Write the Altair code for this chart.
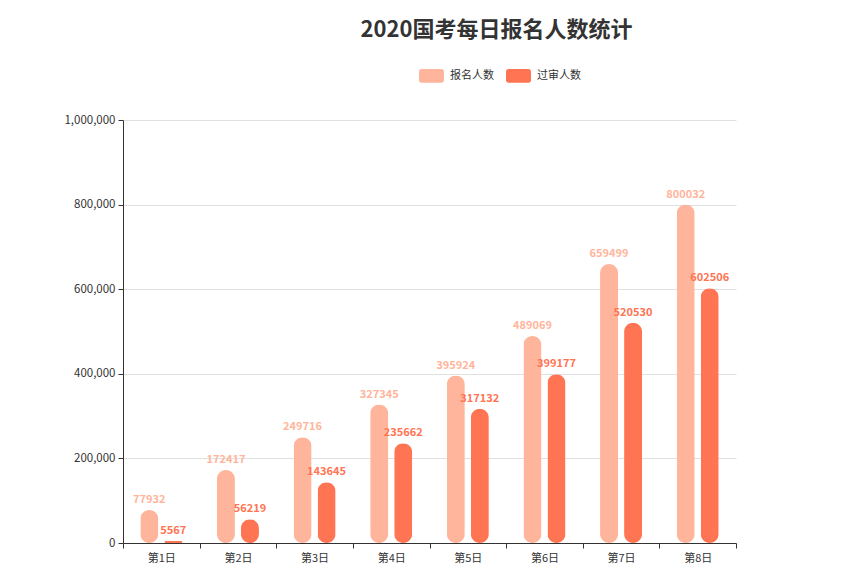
import altair as alt
import pandas as pd

days = ["第1日", "第2日", "第3日", "第4日", "第5日", "第6日", "第7日", "第8日"]
series = ["报名人数", "过审人数"]
signup = [77932, 172417, 249716, 327345, 395924, 489069, 659499, 800032]
approved = [5567, 56219, 143645, 235662, 317132, 399177, 520530, 602506]
colors = ["#FFB59B", "#FF7452"]

rows = []
for d, a, b in zip(days, signup, approved):
    rows.append({"day": d, "series": series[0], "value": a})
    rows.append({"day": d, "series": series[1], "value": b})
df = pd.DataFrame(rows)

font = "Noto Sans CJK SC"
rect_path = ("M-0.8,-0.55 L0.8,-0.55 A0.2,0.2 0 0 1 1,-0.35 L1,0.35 "
             "A0.2,0.2 0 0 1 0.8,0.55 L-0.8,0.55 A0.2,0.2 0 0 1 -1,0.35 "
             "L-1,-0.35 A0.2,0.2 0 0 1 -0.8,-0.55 Z")

x = alt.X("day:N", sort=days, title=None,
          scale=alt.Scale(paddingInner=0, paddingOuter=0),
          axis=alt.Axis(labelAngle=0, tickBand="extent", labelFont=font,
                        labelFontSize=11, labelColor="#333", domainColor="#333",
                        tickColor="#333", tickSize=5, labelPadding=4, grid=False))
xoff = alt.XOffset("series:N", sort=series,
                   scale=alt.Scale(paddingInner=0.25, paddingOuter=0.72))
color = alt.Color("series:N", sort=series,
                  scale=alt.Scale(domain=series, range=colors),
                  legend=alt.Legend(title=None, orient="none", direction="horizontal",
                                    legendX=296, legendY=-57, symbolType=rect_path,
                                    symbolSize=625, symbolStrokeWidth=0,
                                    symbolOpacity=1, labelFont=font,
                                    labelFontSize=11, labelColor="#333",
                                    columnPadding=12, labelOffset=6))

base = alt.Chart(df).encode(x=x, xOffset=xoff)

yaxis = alt.Axis(values=[0, 200000, 400000, 600000, 800000, 1000000],
                 format=",.0f", labelFont=font, labelFontSize=11.5,
                 labelColor="#333", domainColor="#333", tickColor="#333",
                 tickSize=5, gridColor="#e0e0e0", labelPadding=3)

bars = base.mark_bar(cornerRadius=9).encode(
    y=alt.Y("value:Q", title=None,
            scale=alt.Scale(domain=[0, 1000000], nice=False), axis=yaxis),
    color=color,
)

labels = base.mark_text(dy=-5, fontWeight="bold", fontSize=11, font=font,
                        baseline="bottom").encode(
    y=alt.Y("value:Q", title=None, axis=yaxis,
            scale=alt.Scale(domain=[0, 1000000], nice=False)),
    text=alt.Text("value:Q", format="d"),
    color=alt.Color("series:N", sort=series,
                    scale=alt.Scale(domain=series, range=colors), legend=None),
)

chart = alt.layer(bars, labels).properties(
    width=613, height=423,
    title=alt.TitleParams("2020国考每日报名人数统计", font=font, fontSize=22,
                          fontWeight="bold", color="#333", anchor="middle",
                          dx=67, offset=21),
    padding={"left": 55, "top": 11, "right": 5, "bottom": 5},
).configure_view(stroke=None)

chart.save("out.html", embed_options={"renderer": "svg", "actions": False})
